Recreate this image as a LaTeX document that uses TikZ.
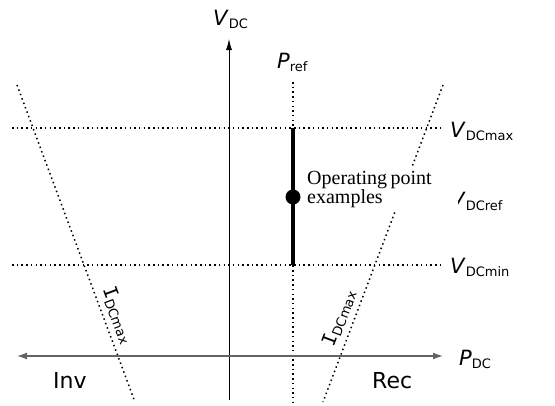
\documentclass[tikz,border=0pt]{standalone}
\usepackage{fontspec}
\setmainfont{DejaVu Sans}
\newfontfamily\serifA{Liberation Serif}
\newfontfamily\monoA{DejaVu Sans Mono}
\usetikzlibrary{arrows.meta}
\newcommand\biglab[2]{{\fontsize{21}{24}\selectfont\textit{#1}}\raisebox{-3.5pt}{\fontsize{13}{15}\selectfont #2}}
\newcommand\curlab{{\fontsize{19}{22}\selectfont\monoA I}\raisebox{-3pt}{\fontsize{13}{15}\selectfont DCmax}}
\begin{document}
\begin{tikzpicture}[x=1pt,y=-1pt,
  dotline/.style={line width=1.5pt, dash pattern=on 1.5pt off 3.2pt},
  vaxis/.style={line width=0.8pt, -{Latex[length=11pt,width=6pt]}},
  haxis/.style={line width=1.3pt, draw={rgb,255:red,100;green,100;blue,100},
     {Latex[length=10pt,width=7pt]}-{Latex[length=10pt,width=7pt]}},
  lab/.style={anchor=base west, inner sep=0pt},
  curl/.style={inner sep=0pt}]
\path[use as bounding box] (0,0) rectangle (555,405);
% coordinates
\coordinate (vb) at (229,400);
\coordinate (vt) at (229,39);
\coordinate (hl) at (17,356);
\coordinate (hr) at (443,356);
\coordinate (pt) at (293,82);
\coordinate (pb) at (293,402);
\coordinate (maxl) at (12,128);
\coordinate (maxr) at (443,128);
\coordinate (minl) at (12,265);
\coordinate (minr) at (443,265);
\coordinate (ll1) at (17,85);
\coordinate (ll2) at (135,402);
\coordinate (rl1) at (443,85);
\coordinate (rl2) at (323,402);
\coordinate (opt) at (293,128);
\coordinate (opb) at (293,265);
% dotted lines
\draw[dotline] (pt) -- (pb);
\draw[dotline] (maxl) -- (maxr);
\draw[dotline] (minl) -- (minr);
\draw[dotline] (ll1) -- (ll2);
\draw[dotline] (rl1) -- (rl2);
% axes
\draw[vaxis] (vb) -- (vt);
\draw[haxis] (hl) -- (hr);
% operating range
\draw[line width=4pt] (opt) -- (opb);
\node[circle, fill=black, inner sep=0pt, minimum size=15pt] (op) at (293,197) {};
% labels
\node[lab] (vdc) at (213,25) {\biglab{V}{DC}};
\node[lab] (pref) at (277,68) {\biglab{P}{ref}};
\node[lab] (pdc) at (459,365) {\biglab{P}{DC}};
\node[lab] (vmax) at (450,137) {\biglab{V}{DCmax}};
\node[lab] (vref) at (450,207) {\biglab{V}{DCref}};
\node[lab] (vmin) at (450,273) {\biglab{V}{DCmin}};
\node[lab] (inv) at (53,388) {\fontsize{22}{24}\selectfont Inv};
\node[lab] (rec) at (372,388) {\fontsize{22}{24}\selectfont Rec};
\node[curl, rotate=-69.5] (il) at (118,315) {\curlab};
\node[curl, rotate=69.3] (ir) at (339,318) {\curlab};
% operating point text (white background)
\node[anchor=north west, fill=white, inner xsep=0pt, inner ysep=3pt,
      text width=151pt, align=left] (optext) at (307,168)
  {\serifA\fontsize{20}{19.5}\selectfont Operating point\\examples};
\end{tikzpicture}
\end{document}
